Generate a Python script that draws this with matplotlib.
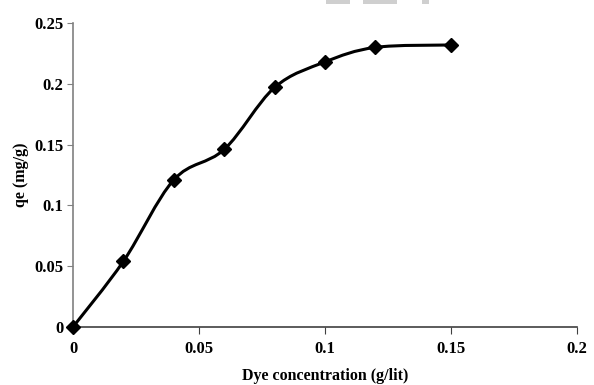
import matplotlib.pyplot as plt
from matplotlib.path import Path
from matplotlib.patches import PathPatch, Rectangle
import numpy as np

# dye concentration (g/lit) and adsorption capacity qe (mg/g)
conc = [0, 0.02, 0.04, 0.06, 0.08, 0.10, 0.12, 0.15]
qe = [0, 0.054, 0.121, 0.146, 0.197, 0.218, 0.230, 0.232]

xticks = [0, 0.05, 0.1, 0.15, 0.2]
xticklabels = ["0", "0.05", "0.1", "0.15", "0.2"]
yticks = [0, 0.05, 0.1, 0.15, 0.2, 0.25]
yticklabels = ["0", "0.05", "0.1", "0.15", "0.2", "0.25"]

plt.rcParams["font.family"] = ["Liberation Serif", "DejaVu Serif"]
plt.rcParams["font.weight"] = "bold"

fig = plt.figure(figsize=(5.94, 3.85), dpi=100)
ax = fig.add_axes([0.123, 0.151, 0.848, 0.789])


# smoothed line through the points (bezier with catmull-rom style handles)
def smooth_path(x, y):
    p = np.column_stack([x, y]).astype(float)
    n = len(p)
    verts = [p[0]]
    codes = [Path.MOVETO]
    for i in range(n - 1):
        p0 = p[i - 1] if i > 0 else p[i]
        p3 = p[i + 2] if i + 2 < n else p[i + 1]
        c1 = p[i] + (p[i + 1] - p0) / 6.0
        c2 = p[i + 1] - (p3 - p[i]) / 6.0
        verts += [c1, c2, p[i + 1]]
        codes += [Path.CURVE4] * 3
    return Path(verts, codes)


ax.add_patch(PathPatch(smooth_path(conc, qe), facecolor="none",
                       edgecolor="black", lw=2.2, zorder=2))
ax.plot(conc, qe, linestyle="none", marker="D", color="black",
        markersize=7, zorder=3, clip_on=False)

ax.set_xlim(0, 0.2)
ax.set_ylim(0, 0.25)
ax.set_xticks(xticks)
ax.set_xticklabels(xticklabels)
ax.set_yticks(yticks)
ax.set_yticklabels(yticklabels)

for s in ["top", "right"]:
    ax.spines[s].set_visible(False)
ax.spines["left"].set_color("#808080")
ax.spines["bottom"].set_color("#404040")
ax.spines["left"].set_linewidth(1.2)
ax.spines["bottom"].set_linewidth(1.2)
ax.tick_params(axis="y", direction="out", length=4, colors="#808080",
               labelcolor="black", labelsize=12, pad=3)
ax.tick_params(axis="x", direction="out", length=5, colors="#404040",
               labelcolor="black", labelsize=12, pad=5)

ax.set_xlabel("Dye concentration (g/lit)", fontsize=11.5, fontweight="bold", labelpad=8)
ax.set_ylabel("qe (mg/g)", fontsize=11.5, fontweight="bold", labelpad=4)

# faint grey bars along the top edge
for x0, w in [(0.549, 0.04), (0.611, 0.057), (0.71, 0.013)]:
    fig.patches.append(Rectangle((x0, 0.99), w, 0.01, transform=fig.transFigure,
                                 facecolor="#cfcfcf", edgecolor="none"))

fig.savefig("out.png", dpi=100)
